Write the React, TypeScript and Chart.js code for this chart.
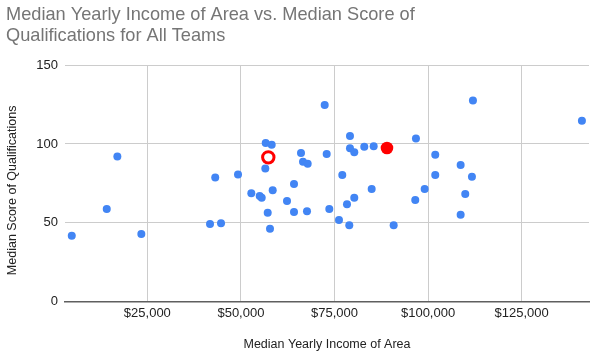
import React, { useEffect, useRef } from "react";
import { Chart, registerables } from "chart.js";

Chart.register(...registerables);

// Median yearly income of area (USD) for each team
const teamIncomes: number[] = [
  4808, 14156, 16987, 23397, 41747, 43136, 44685, 49225, 52778, 55021,
  55555, 56517, 56624, 57158, 57773, 58226, 58494, 62313, 64183, 64183,
  66052, 66587, 67842, 67655, 72382, 72917, 73611, 76202, 77083, 78340,
  78954, 79140, 79140, 80288, 80288, 82959, 84936, 85470, 90812, 96581,
  96767, 99092, 101923, 101923, 108707, 108707, 109936, 111725, 111993, 141105,
];
// Median score of qualifications for each team
const teamScores: number[] = [
  41.8, 58.7, 92.1, 42.9, 49.2, 78.8, 49.7, 80.7, 68.7, 67.0,
  65.9, 84.5, 100.6, 56.4, 46.3, 99.5, 70.6, 63.8, 74.6, 56.8,
  94.2, 88.7, 87.5, 57.3, 124.7, 93.6, 58.7, 51.8, 80.3, 61.7,
  48.4, 105.0, 97.2, 94.7, 65.9, 98.2, 71.4, 98.5, 48.4, 64.4,
  103.5, 71.4, 93.2, 80.3, 86.6, 55.1, 68.3, 79.2, 127.6, 114.7,
];
// Highlighted teams
const highlightFilledIncome: number[] = [89022];
const highlightFilledScore: number[] = [97.4];
const highlightRingIncome: number[] = [57318];
const highlightRingScore: number[] = [91.5];

const xTickValues: number[] = [25000, 50000, 75000, 100000, 125000];
const yTickValues: number[] = [0, 50, 100, 150];

const titleLines: string[] = [
  "Median Yearly Income of Area vs. Median Score of",
  "Qualifications for All Teams",
];
const xAxisTitle = "Median Yearly Income of Area";
const yAxisTitle = "Median Score of Qualifications";

const toPoints = (xs: number[], ys: number[]) => xs.map((x, i) => ({ x, y: ys[i] }));

const FONT = "Arial, 'Liberation Sans', sans-serif";

// Draws the vertical axis title, centred a little below the plot's middle
const yTitlePlugin = {
  id: "yTitle",
  afterDraw(chart: any) {
    const { ctx, chartArea } = chart;
    ctx.save();
    ctx.translate(12.5, (chartArea.top + chartArea.bottom) / 2 + 7);
    ctx.rotate(-Math.PI / 2);
    ctx.fillStyle = "#222222";
    ctx.font = "12.5px " + FONT;
    ctx.textAlign = "center";
    ctx.textBaseline = "middle";
    ctx.fillText(yAxisTitle, 0, 0);
    ctx.restore();
  },
};

export default function App() {
  const ref = useRef<HTMLCanvasElement | null>(null);

  useEffect(() => {
    if (!ref.current) return;
    const chart = new Chart(ref.current, {
      type: "scatter",
      data: {
        datasets: [
          {
            data: toPoints(highlightRingIncome, highlightRingScore),
            backgroundColor: "#ffffff",
            borderColor: "#ff0000",
            borderWidth: 3,
            pointRadius: 5.7,
          },
          {
            data: toPoints(highlightFilledIncome, highlightFilledScore),
            backgroundColor: "#ff0000",
            borderColor: "#ff0000",
            borderWidth: 0,
            pointRadius: 6.3,
          },
          {
            data: toPoints(teamIncomes, teamScores),
            backgroundColor: "#4285f4",
            borderColor: "#4285f4",
            borderWidth: 0,
            pointRadius: 4,
          },
        ],
      },
      options: {
        responsive: false,
        animation: false,
        layout: { padding: { left: 6, right: 9, top: 0, bottom: 0 } },
        plugins: {
          legend: { display: false },
          tooltip: { enabled: false },
          title: {
            display: true,
            text: titleLines,
            align: "start",
            color: "#757575",
            font: { family: FONT, size: 18.2, weight: "normal", lineHeight: 1.155 },
            padding: { top: 4.5, bottom: 18.5 },
          },
        },
        scales: {
          x: {
            type: "linear",
            min: 3000,
            max: 143000,
            afterBuildTicks: (scale: any) => {
              scale.ticks = xTickValues.map((v) => ({ value: v }));
            },
            afterFit: (scale: any) => {
              scale.height = 56.3;
            },
            grid: { color: "#cccccc", lineWidth: 1, drawTicks: false },
            border: { display: true, color: "#5f5f5f", width: 1.6 },
            ticks: {
              color: "#222222",
              padding: 4,
              maxRotation: 0,
              autoSkip: false,
              font: { family: FONT, size: 13 },
              callback: (v: any) => "$" + Number(v).toLocaleString("en-US"),
            },
            title: {
              display: true,
              text: xAxisTitle,
              color: "#222222",
              font: { family: FONT, size: 12.5 },
              padding: { top: 0, bottom: 6 },
            },
          },
          y: {
            min: 0,
            max: 150,
            afterBuildTicks: (scale: any) => {
              scale.ticks = yTickValues.map((v) => ({ value: v }));
            },
            afterFit: (scale: any) => {
              scale.width = 59;
            },
            grid: { color: "#cccccc", lineWidth: 1, drawTicks: false },
            border: { display: false },
            ticks: {
              color: "#222222",
              padding: 7,
              font: { family: FONT, size: 13 },
            },
            title: { display: false },
          },
        },
      },
      plugins: [yTitlePlugin],
    } as any);
    return () => chart.destroy();
  }, []);

  return (
    <div style={{ position: "absolute", left: 0, top: 0, width: 598, height: 358 }}>
      <canvas ref={ref} width={598} height={358} style={{ display: "block" }} />
    </div>
  );
}
